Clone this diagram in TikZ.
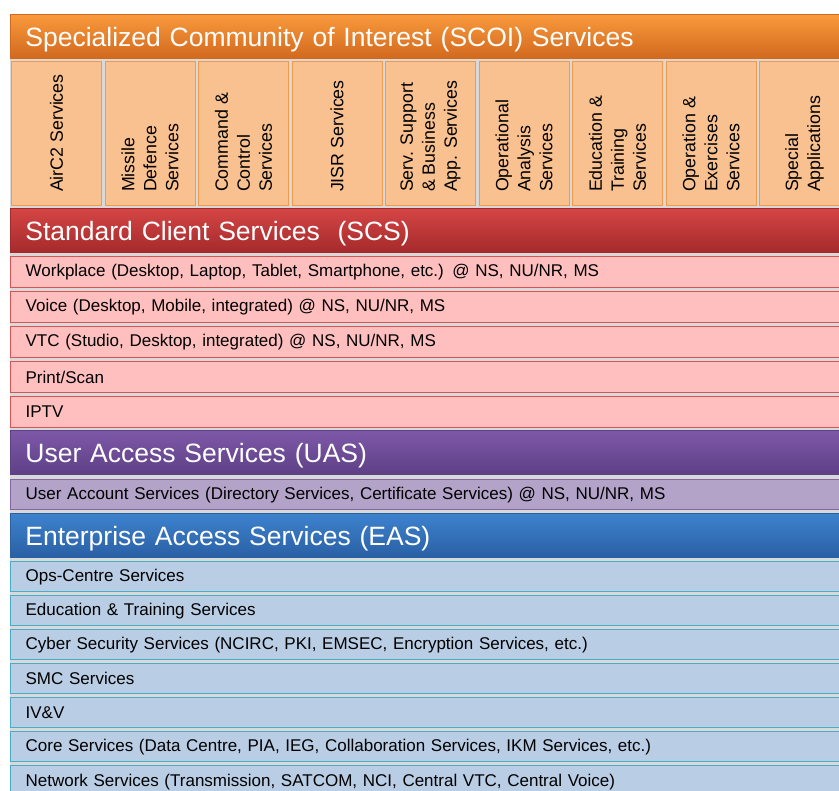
\documentclass[tikz,border=0pt]{standalone}
\usepackage{fontspec}
\setmainfont{Liberation Sans}
\definecolor{orT}{HTML}{F99A3C}
\definecolor{orB}{HTML}{D2691E}
\definecolor{colF}{HTML}{F9C18F}
\definecolor{colD}{HTML}{F29A4C}
\definecolor{rdT}{HTML}{D54545}
\definecolor{rdB}{HTML}{A52A2C}
\definecolor{pkF}{HTML}{FFBFBF}
\definecolor{pkD}{HTML}{D65454}
\definecolor{puT}{HTML}{7E58A8}
\definecolor{puB}{HTML}{5E4086}
\definecolor{lpF}{HTML}{B3A3C8}
\definecolor{lpD}{HTML}{8266A4}
\definecolor{blT}{HTML}{3D82CE}
\definecolor{blB}{HTML}{2A60A4}
\definecolor{lbF}{HTML}{B9CDE5}
\definecolor{lbD}{HTML}{4BACC6}
\definecolor{gapC}{HTML}{D9D9D9}
\begin{document}
\begin{tikzpicture}[x=1pt,y=-1pt,
  bar/.style={rectangle, anchor=north west, minimum width=850pt, text width=820pt,
    inner xsep=15pt, inner ysep=0pt, align=left},
  hdr/.style={bar, text=white, font=\fontsize{26.5}{30}\selectfont, minimum height=44pt,
    line width=0.8pt, text height=24pt, text depth=3pt},
  row/.style={bar, text=black, font=\fontsize{17}{20}\selectfont, minimum height=31pt, line width=1.3pt},
  prow/.style={row, fill=pkF, draw=pkD},
  urow/.style={row, fill=lpF, draw=lpD, minimum height=30pt},
  brow/.style={row, fill=lbF, draw=lbD, minimum height=30pt},
  colbox/.style={rectangle, anchor=north west, minimum width=90pt, minimum height=144pt,
    fill=colF, draw=colD, line width=1.2pt, inner sep=0pt},
  coltext/.style={rotate=90, anchor=west, align=left, inner sep=0pt,
    font=\fontsize{17.8}{22}\selectfont}
]
\useasboundingbox (0,0) rectangle (839,791);
\clip (0,0) rectangle (839,791);
\fill[gapC] (10,14) rectangle (845,795);

\node[hdr, top color=orT, bottom color=orB, draw=orB] (scoi) at (10,14)
  {Specialized Community of Interest (SCOI) Services};

\foreach \i/\t in {1/{AirC2 Services},
                   2/{Missile\\Defence\\Services},
                   3/{Command \&\\Control\\Services},
                   4/{JISR Services},
                   5/{Serv. Support\\\& Business\\App. Services},
                   6/{Operational\\Analysis\\Services},
                   7/{Education \&\\Training\\Services},
                   8/{Operation \&\\Exercises\\Services},
                   9/{Special\\Applications}} {
  \node[colbox] (c\i) at ({11+93.5*(\i-1)},61) {};
  \node[coltext] (ct\i) at ([yshift=14pt]c\i.south) {\t};
}

\node[hdr, top color=rdT, bottom color=rdB, draw=rdB] (scs) at (10,208)
  {Standard Client Services~ (SCS)};
\node[prow] (s1) at (10,256) {Workplace (Desktop, Laptop, Tablet, Smartphone, etc.) @ NS, NU/NR, MS};
\node[prow] (s2) at (10,291) {Voice (Desktop, Mobile, integrated) @ NS, NU/NR, MS};
\node[prow] (s3) at (10,326) {VTC (Studio, Desktop, integrated) @ NS, NU/NR, MS};
\node[prow] (s4) at (10,361) {Print/Scan};
\node[prow] (s5) at (10,396) {IPTV};

\node[hdr, top color=puT, bottom color=puB, draw=puB] (uas) at (10,430)
  {User Access Services (UAS)};
\node[urow] (u1) at (10,479) {User Account Services (Directory Services, Certificate Services) @ NS, NU/NR, MS};

\node[hdr, top color=blT, bottom color=blB, draw=blB] (eas) at (10,513)
  {Enterprise Access Services (EAS)};
\node[brow] (e1) at (10,561) {Ops-Centre Services};
\node[brow] (e2) at (10,595) {Education \& Training Services};
\node[brow] (e3) at (10,629) {Cyber Security Services (NCIRC, PKI, EMSEC, Encryption Services, etc.)};
\node[brow] (e4) at (10,663) {SMC Services};
\node[brow] (e5) at (10,697) {IV\&V};
\node[brow] (e6) at (10,731) {Core Services (Data Centre, PIA, IEG, Collaboration Services, IKM Services, etc.)};
\node[brow, minimum height=32pt] (e7) at (10,765) {Network Services (Transmission, SATCOM, NCI, Central VTC, Central Voice)};
\end{tikzpicture}
\end{document}
